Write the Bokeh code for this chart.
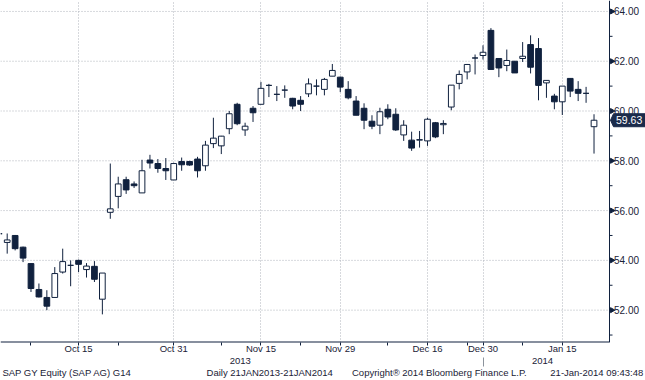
import math
from bokeh.plotting import figure
from bokeh.models import FixedTicker, Range1d, ColumnDataSource, LinearAxis
from bokeh.core.properties import value
from bokeh.embed import file_html
from bokeh.resources import INLINE

# ---- data (SAP GY, daily, trading days Sep 30 2013 - Jan 21 2014) ----
dates = ["2013-09-30",
         "2013-10-01", "2013-10-02", "2013-10-04", "2013-10-07", "2013-10-08", "2013-10-09", "2013-10-10",
         "2013-10-11", "2013-10-14", "2013-10-15", "2013-10-16", "2013-10-17", "2013-10-18", "2013-10-21",
         "2013-10-22", "2013-10-23", "2013-10-24", "2013-10-25", "2013-10-28", "2013-10-29", "2013-10-30",
         "2013-10-31", "2013-11-01", "2013-11-04", "2013-11-05", "2013-11-06", "2013-11-07", "2013-11-08",
         "2013-11-11", "2013-11-12", "2013-11-13", "2013-11-14", "2013-11-15", "2013-11-18", "2013-11-19",
         "2013-11-20", "2013-11-21", "2013-11-22", "2013-11-25", "2013-11-26", "2013-11-27", "2013-11-28",
         "2013-11-29", "2013-12-02", "2013-12-03", "2013-12-04", "2013-12-05", "2013-12-06", "2013-12-09",
         "2013-12-10", "2013-12-11", "2013-12-12", "2013-12-13", "2013-12-16", "2013-12-17", "2013-12-18",
         "2013-12-19", "2013-12-20", "2013-12-23", "2013-12-27", "2013-12-30", "2014-01-02", "2014-01-03",
         "2014-01-06", "2014-01-07", "2014-01-08", "2014-01-09", "2014-01-10", "2014-01-13", "2014-01-14",
         "2014-01-15", "2014-01-16", "2014-01-17", "2014-01-20", "2014-01-21"]

opens = [55.07,
         54.72, 55.00, 54.53, 53.87, 52.83, 52.51, 52.51, 53.53, 53.80, 54.00,
         53.63, 53.76, 52.44, 55.93, 56.57, 57.24, 57.07, 56.71, 58.03, 57.89,
         57.69, 57.23, 57.97, 57.97, 58.07, 57.80, 58.69, 58.60, 59.29, 60.27,
         59.24, 60.11, 60.27, 61.03, 60.67, 60.84, 60.51, 60.43, 60.69, 61.00,
         60.87, 61.40, 61.36, 60.87, 60.40, 60.11, 59.59, 59.43, 60.07, 59.87,
         59.04, 58.83, 58.83, 58.80, 59.53, 59.45, 60.16, 61.11, 61.57, 62.13,
         62.23, 63.24, 62.11, 61.83, 62.00, 62.11, 62.67, 62.51, 61.13, 60.60,
         60.37, 61.31, 60.87, 60.71, 59.37]
highs = [55.07,
         55.08, 55.02, 54.55, 53.88, 53.07, 52.80, 53.73, 54.47, 54.00, 54.03,
         53.89, 53.97, 53.49, 57.89, 57.36, 57.36, 57.17, 58.04, 58.24, 58.07,
         58.11, 57.92, 58.13, 58.00, 58.16, 58.80, 59.73, 59.00, 60.00, 60.33,
         59.53, 60.20, 61.17, 61.09, 61.00, 61.03, 60.53, 60.60, 61.31, 61.27,
         61.33, 61.89, 61.38, 61.20, 60.60, 60.31, 59.83, 60.13, 60.27, 60.11,
         59.63, 59.17, 59.20, 59.73, 59.56, 59.63, 61.04, 61.63, 61.89, 62.27,
         62.64, 63.33, 62.11, 62.47, 62.00, 62.77, 63.04, 62.93, 61.23, 60.69,
         61.00, 61.31, 61.20, 60.97, 59.87]
lows = [55.07,
        54.27, 54.40, 53.93, 52.73, 52.51, 52.00, 52.51, 53.47, 52.96, 53.53,
        53.31, 53.13, 51.83, 55.67, 56.09, 56.67, 56.91, 56.71, 57.69, 57.52,
        57.23, 57.23, 57.60, 57.80, 57.33, 57.60, 58.51, 58.27, 59.07, 59.43,
        59.00, 59.56, 60.27, 60.56, 60.40, 60.53, 60.07, 60.00, 60.56, 60.63,
        60.63, 61.40, 60.76, 60.47, 59.83, 59.27, 59.27, 59.07, 59.67, 59.20,
        58.80, 58.40, 58.53, 58.60, 58.91, 59.07, 60.03, 60.87, 61.27, 61.47,
        62.07, 61.67, 61.36, 61.60, 61.53, 61.97, 61.51, 60.43, 60.53, 60.07,
        59.84, 60.56, 60.40, 60.33, 58.29]
closes = [55.07,
          54.82, 54.47, 54.09, 52.87, 52.53, 52.16, 53.47, 53.95, 53.80, 53.84,
          53.77, 53.24, 53.49, 56.07, 57.07, 56.83, 57.00, 57.60, 57.91, 57.69,
          57.60, 57.89, 57.84, 57.83, 57.60, 58.63, 58.91, 58.99, 59.89, 59.49,
          59.39, 59.93, 60.91, 61.03, 60.67, 60.84, 60.20, 60.27, 61.09, 61.00,
          61.27, 61.63, 60.96, 60.53, 59.83, 59.63, 59.39, 59.97, 59.76, 59.24,
          59.43, 58.51, 58.85, 59.67, 58.96, 59.50, 61.04, 61.47, 61.87, 62.13,
          62.36, 61.67, 61.73, 62.03, 61.53, 62.20, 61.76, 61.03, 61.23, 60.37,
          61.00, 60.80, 60.71, 60.71, 59.63]

x_tick_pos = [9, 21, 32, 42, 53, 60, 70]
x_tick_labels = ["Oct 15", "Oct 31", "Nov 15", "Nov 29", "Dec 16", "Dec 30", "Jan 15"]
x_minor_pos = [3, 14, 27, 37, 48, 58, 65]
year_pos = [29.4, 67.5]
year_labels = ["2013", "2014"]
year_sep_pos = [60]
y_ticks = [52, 54, 56, 58, 60, 62, 64]
y_minor = [51, 53, 55, 57, 59, 61, 63]
last_price = 59.63
footer_texts = ["SAP GY Equity (SAP AG) G14", "Daily 21JAN2013-21JAN2014",
                "Copyright\u00ae 2014 Bloomberg Finance L.P.", "21-Jan-2014 09:43:48"]
footer_pos = [7.55, 33.1, 54.5, 74.35]

# ---- styling / layout ----
NAVY = "#10213e"
TAG = "#1b2b4b"
TEXT = "#1a2236"
GRID = "#aeb3bb"
FONT = "Liberation Sans"

W, H = 645, 380
BOTTOM = 38
AXIS_PX = 609                      # x pixel of the price axis line
PPX = 7.93                         # pixels per trading day
x0 = -0.845
x1 = x0 + W / PPX
x_ax = x0 + AXIS_PX / PPX
y0, y1 = 50.7, 64.44
ppu = (H - BOTTOM) / (y1 - y0)

idx = [i - 1 for i in range(len(dates))]
up = [c >= o for o, c in zip(opens, closes)]
src = ColumnDataSource(dict(
    x=idx, date=dates, high=highs, low=lows,
    top=[max(o, c) for o, c in zip(opens, closes)],
    bottom=[min(o, c) for o, c in zip(opens, closes)],
    fill=["white" if u else NAVY for u in up],
))

p = figure(width=W, height=H, x_range=Range1d(x0, x1), y_range=Range1d(y0, y1),
           y_axis_location=None, output_backend="svg", toolbar_location=None,
           min_border_left=0, min_border_top=0, min_border_right=0, min_border_bottom=BOTTOM)
p.outline_line_color = None
p.background_fill_color = "white"
p.border_fill_color = "white"

# vertical grid at labelled dates
for g in p.xgrid:
    g.ticker = FixedTicker(ticks=x_tick_pos)
    g.grid_line_color = GRID
    g.grid_line_dash = "1 2"
    g.grid_line_width = 1
for g in p.ygrid:
    g.visible = False

# horizontal grid up to the price axis
n = len(y_ticks)
p.segment(x0=[x0] * n, y0=y_ticks, x1=[x_ax] * n, y1=y_ticks,
          line_color=GRID, line_dash="1 2", line_width=1)

# candles
p.segment(x0="x", y0="high", x1="x", y1="low", source=src, line_color=NAVY, line_width=1)
p.vbar(x="x", width=0.72, top="top", bottom="bottom", source=src,
       fill_color="fill", line_color=NAVY, line_width=1)

# price axis (right side) drawn on the data scale
p.segment(x0=[x0], y0=[y0], x1=[x_ax], y1=[y0], line_color=NAVY, line_width=2)
p.segment(x0=[x_ax], y0=[y0], x1=[x_ax], y1=[y1], line_color=NAVY, line_width=1)
p.scatter(x=[x_ax + 2.5 / PPX] * n, y=y_ticks, marker="triangle", size=5, angle=-math.pi / 2,
          fill_color=NAVY, line_color=NAVY)
m = len(y_minor)
p.segment(x0=[x_ax] * m, y0=y_minor, x1=[x_ax + 3 / PPX] * m, y1=y_minor, line_color=NAVY, line_width=1)
p.text(x=[x_ax + 4.5 / PPX] * n, y=y_ticks, text=[f"{v:.2f}" for v in y_ticks],
       text_baseline="middle", text_align="left", text_font=value(FONT),
       text_font_size="10px", text_color=TEXT)

# last price tag
hh = 6.5 / ppu
p.patch(x=[x_ax + 1 / PPX, x_ax + 4 / PPX, x1, x1, x_ax + 4 / PPX],
        y=[last_price, last_price + hh, last_price + hh, last_price - hh, last_price - hh],
        fill_color=TAG, line_color=TAG)
p.text(x=[x_ax + 6.5 / PPX], y=[last_price], text=[f"{last_price:.2f}"],
       text_baseline="middle", text_align="left", text_font=value(FONT),
       text_font_size="10.5px", text_color="white")

# date axis: dates on line 1, years on line 2, footer on line 3
xa = p.xaxis[0]
all_ticks = x_tick_pos + year_pos + footer_pos
overrides = {}
for pos, lab in zip(x_tick_pos, x_tick_labels):
    overrides[pos] = lab
for pos, lab in zip(year_pos, year_labels):
    overrides[pos] = "\n" + lab
for pos, lab in zip(footer_pos, footer_texts):
    overrides[pos] = "\n\n" + lab
xa.ticker = FixedTicker(ticks=all_ticks, minor_ticks=x_tick_pos + x_minor_pos)
xa.major_label_overrides = overrides
xa.axis_line_color = None
xa.major_tick_line_color = None
xa.major_tick_in = 0
xa.major_tick_out = 0
xa.minor_tick_line_color = NAVY
xa.minor_tick_in = 0
xa.minor_tick_out = 3
xa.major_label_standoff = -3
xa.axis_label_standoff = 0
xa.major_label_text_font = FONT
xa.major_label_text_font_size = "9.5px"
xa.major_label_text_line_height = 1.1
xa.major_label_text_color = TEXT

# year separator tick (a second, label-less axis reaching back up under the dates)
sep = LinearAxis(ticker=FixedTicker(ticks=year_sep_pos, minor_ticks=[]))
sep.axis_line_color = None
sep.major_tick_line_color = "#8c939c"
sep.major_tick_in = 23
sep.major_tick_out = -14
sep.minor_tick_line_color = None
sep.major_label_text_font_size = "1px"
sep.major_label_text_alpha = 0
sep.major_label_standoff = 0
sep.axis_label_standoff = 0
p.add_layout(sep, "below")

open("out.html", "w").write(file_html(p, INLINE))
